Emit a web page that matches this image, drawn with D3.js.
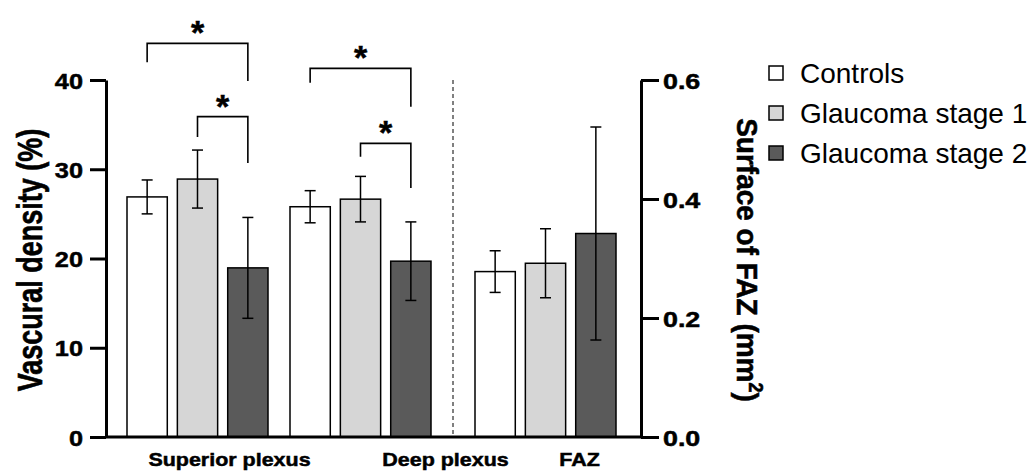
<html>
<head>
  <script src="https://d3js.org/d3.v7.min.js"></script>
  <style>
    body { margin: 0; background: #fff; }
    text { font-family: "Liberation Sans", Arial, Helvetica, sans-serif; }
    .heavy { stroke: #000; stroke-width: 0.5px; }
  </style>
</head>
<body>
<div id="chart"></div>
<script type="text/javascript">

// ---- data ----
const groups = ["Superior plexus", "Deep plexus", "FAZ"];
const series = ["Controls", "Glaucoma stage 1", "Glaucoma stage 2"];
const colors = ["#ffffff", "#d6d6d6", "#5a5a5a"];

// vascular density (%), left axis
const superiorMean = [26.9, 28.9, 18.95];
const superiorSd = [1.9, 3.25, 5.65];
const deepMean = [25.8, 26.65, 19.7];
const deepSd = [1.8, 2.55, 4.4];
// FAZ surface (mm2), right axis
const fazMean = [0.278, 0.292, 0.342];
const fazSd = [0.035, 0.058, 0.179];

const leftTicks = [0, 10, 20, 30, 40];
const rightTicks = [0, 0.2, 0.4, 0.6];

// significance brackets (left axis units)
const sigGroup = ["Superior plexus", "Superior plexus", "Deep plexus", "Deep plexus"];
const sigFrom = ["Controls", "Glaucoma stage 1", "Controls", "Glaucoma stage 1"];
const sigTo = ["Glaucoma stage 2", "Glaucoma stage 2", "Glaucoma stage 2", "Glaucoma stage 2"];
const sigTop = [44.1, 35.9, 41.3, 32.9];
const sigLeftEnd = [42.0, 33.6, 39.7, 31.4];
const sigRightEnd = [39.9, 30.7, 37.0, 27.9];

const svg = d3.select("#chart").append("svg")
  .attr("width", 1034)
  .attr("height", 472);

const yLeft = d3.scaleLinear().domain([0, 40]).range([437, 80]);
const yRight = d3.scaleLinear().domain([0, 0.6]).range([437, 80]);

// groups: equal steps, extra gap before FAZ for the separator
const x0 = d3.scaleBand().domain(groups).range([127, 127 + 3 * 163 - 22]).paddingInner(22 / 163);
const sepGap = 22;
const gx = g => x0(g) + (g === "FAZ" ? sepGap : 0);
const x1 = d3.scaleBand().domain(series).range([0, x0.bandwidth()]).paddingInner(0.2);

const rows = [];
series.forEach((s, i) => {
  rows.push({ group: groups[0], s: s, i: i, v: superiorMean[i], sd: superiorSd[i], y: yLeft });
  rows.push({ group: groups[1], s: s, i: i, v: deepMean[i], sd: deepSd[i], y: yLeft });
  rows.push({ group: groups[2], s: s, i: i, v: fazMean[i], sd: fazSd[i], y: yRight });
});

// bars
svg.append("g").selectAll("rect")
  .data(rows)
  .join("rect")
  .attr("x", d => gx(d.group) + x1(d.s))
  .attr("y", d => d.y(d.v))
  .attr("width", x1.bandwidth())
  .attr("height", d => d.y(0) - d.y(d.v))
  .attr("fill", d => colors[d.i])
  .attr("stroke", "#000")
  .attr("stroke-width", 1.5);

// error bars
const eb = svg.append("g").attr("stroke", "#000").attr("stroke-width", 1.5);
rows.forEach(d => {
  const cx = gx(d.group) + x1(d.s) + x1.bandwidth() / 2;
  const hi = d.y(d.v + d.sd), lo = d.y(d.v - d.sd);
  eb.append("line").attr("x1", cx).attr("x2", cx).attr("y1", hi).attr("y2", lo);
  eb.append("line").attr("x1", cx - 5.5).attr("x2", cx + 5.5).attr("y1", hi).attr("y2", hi);
  eb.append("line").attr("x1", cx - 5.5).attr("x2", cx + 5.5).attr("y1", lo).attr("y2", lo);
});

// separator
svg.append("line")
  .attr("x1", x0("FAZ")).attr("x2", x0("FAZ"))
  .attr("y1", yLeft(40)).attr("y2", yLeft(0))
  .attr("stroke", "#000").attr("stroke-width", 1)
  .attr("stroke-dasharray", "4,3");

// baseline
svg.append("line")
  .attr("x1", 106).attr("x2", 641)
  .attr("y1", yLeft(0)).attr("y2", yLeft(0))
  .attr("stroke", "#000").attr("stroke-width", 3);

// left axis
const gL = svg.append("g").attr("transform", "translate(106,0)")
  .call(d3.axisLeft(yLeft).tickValues(leftTicks).tickSize(16).tickSizeOuter(0));
gL.select(".domain").attr("stroke-width", 3);
gL.selectAll(".tick line").attr("stroke-width", 3);
gL.selectAll(".tick text")
  .attr("x", 0).attr("dy", null)
  .attr("class", "heavy")
  .attr("transform", "translate(-23,8) scale(1.15,1)")
  .attr("font-size", 22).attr("font-weight", "bold")
  .attr("font-family", "Liberation Sans, Arial, sans-serif")
  .attr("fill", "#000");

// right axis
const gR = svg.append("g").attr("transform", "translate(641,0)")
  .call(d3.axisRight(yRight).tickValues(rightTicks).tickSize(18).tickSizeOuter(0).tickFormat(d3.format(".1f")));
gR.select(".domain").attr("stroke-width", 3);
gR.selectAll(".tick line").attr("stroke-width", 3);
gR.selectAll(".tick text")
  .attr("x", 0).attr("dy", null)
  .attr("class", "heavy")
  .attr("transform", "translate(22,8) scale(1.22,1)")
  .attr("font-size", 22).attr("font-weight", "bold")
  .attr("font-family", "Liberation Sans, Arial, sans-serif")
  .attr("fill", "#000");

// category labels
const labelShift = [32, 85, 34];
groups.forEach((g, i) => {
  svg.append("text")
    .attr("class", "heavy")
    .attr("transform", `translate(${gx(g) + x0.bandwidth() / 2 + labelShift[i]},466) scale(1.13,1)`)
    .attr("text-anchor", "middle")
    .attr("font-size", 19)
    .attr("font-weight", "bold")
    .text(g);
});

// axis titles
svg.append("text")
  .attr("class", "heavy")
  .attr("transform", "translate(42,260) scale(1.3,1) rotate(-90)")
  .attr("text-anchor", "middle")
  .attr("font-size", 27)
  .attr("font-weight", "bold")
  .text("Vascural density (%)");

const rt = svg.append("text")
  .attr("class", "heavy")
  .attr("transform", "translate(737,260) scale(1.08,1) rotate(90)")
  .attr("text-anchor", "middle")
  .attr("font-size", 28)
  .attr("font-weight", "bold");
rt.append("tspan").text("Surface of FAZ (mm");
rt.append("tspan").attr("font-size", 18).attr("dy", -11).text("2");
rt.append("tspan").attr("dy", 11).text(")");

// significance brackets
const sb = svg.append("g");
sigGroup.forEach((g, k) => {
  const xa = gx(g) + x1(sigFrom[k]) + x1.bandwidth() / 2;
  const xb = gx(g) + x1(sigTo[k]) + x1.bandwidth() / 2;
  const yt = yLeft(sigTop[k]);
  sb.append("path")
    .attr("d", `M${xa},${yLeft(sigLeftEnd[k])}V${yt}H${xb}V${yLeft(sigRightEnd[k])}`)
    .attr("fill", "none").attr("stroke", "#000").attr("stroke-width", 1.6);
  sb.append("text")
    .attr("class", "heavy")
    .attr("x", (xa + xb) / 2).attr("y", yt + 1)
    .attr("text-anchor", "middle")
    .attr("font-size", 34).attr("font-weight", "bold")
    .text("*");
});

// legend
const lg = svg.append("g").attr("transform", "translate(769,66)");
series.forEach((s, i) => {
  lg.append("rect")
    .attr("x", 0).attr("y", i * 40)
    .attr("width", 14).attr("height", 14)
    .attr("fill", colors[i]).attr("stroke", "#000").attr("stroke-width", 1.5);
  lg.append("text")
    .attr("x", 31).attr("y", i * 40 + 17)
    .attr("font-size", 28)
    .text(s);
});

</script>
</body>
</html>
